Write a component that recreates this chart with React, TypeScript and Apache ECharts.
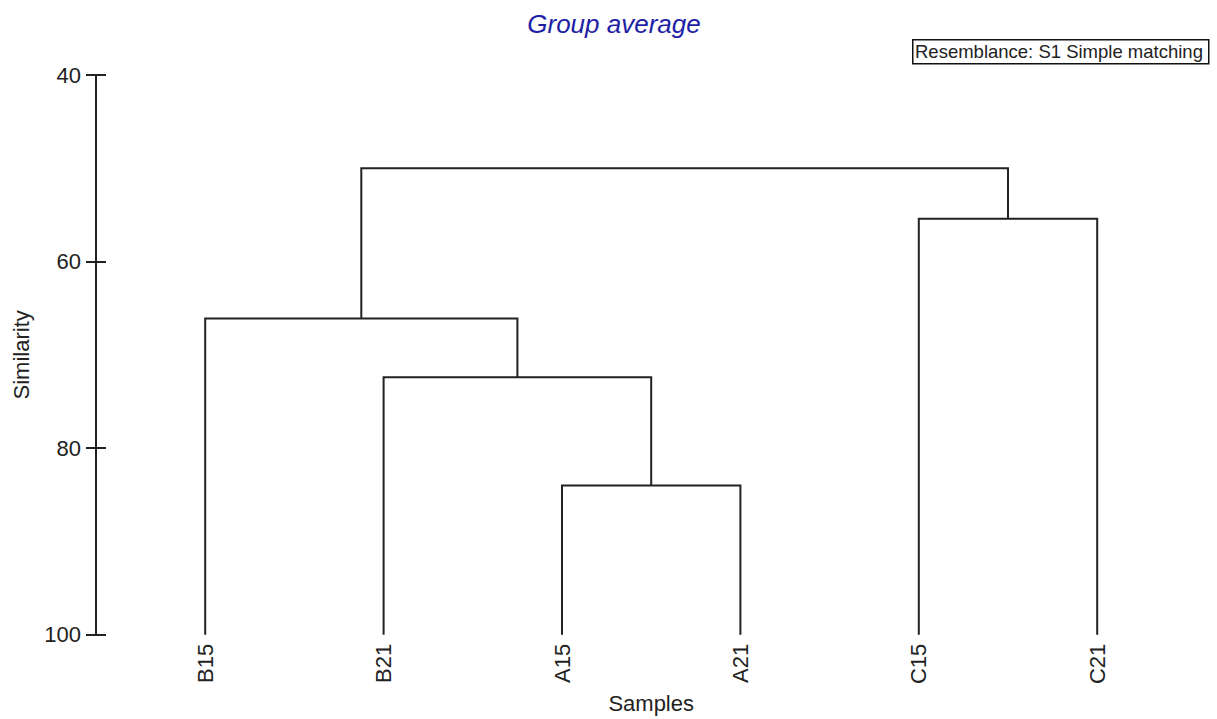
import React, { useEffect, useRef } from "react";
import * as echarts from "echarts";

const leaves = ["B15", "B21", "A15", "A21", "C15", "C21"];
// merges: node ids 0..5 are leaves, 6.. are merges in order
const mergeLeft = [2, 1, 0, 4, 8];
const mergeRight = [3, 6, 7, 5, 9];
const mergeSimilarity = [84.0, 72.4, 66.1, 55.4, 50.0];
const leafSimilarity = 100;
const yMin = 40;
const yMax = 100;
const yInterval = 20;

const titleText = "Group average";
const resemblanceText = "Resemblance: S1 Simple matching";
const xName = "Samples";
const yName = "Similarity";

const FONT = "'Liberation Sans', Arial, sans-serif";

function buildLinks() {
  const nodeX: number[] = leaves.map((_, i) => i);
  const nodeY: number[] = leaves.map(() => leafSimilarity);
  const links: number[][] = [];
  mergeLeft.forEach((l, k) => {
    const r = mergeRight[k];
    const h = mergeSimilarity[k];
    links.push([nodeX[l], nodeY[l], nodeX[r], nodeY[r], h]);
    nodeX.push((nodeX[l] + nodeX[r]) / 2);
    nodeY.push(h);
  });
  return links;
}

export default function App() {
  const ref = useRef<HTMLDivElement>(null);
  useEffect(() => {
    document.body.style.margin = "0";
    const chart = echarts.init(ref.current!, undefined, { renderer: "svg" });
    const links = buildLinks();
    const textColor = "#222";
    chart.setOption({
      animation: false,
      backgroundColor: "#fff",
      textStyle: { fontFamily: FONT },
      title: {
        text: titleText,
        left: 609,
        textAlign: "center",
        top: 6,
        textStyle: {
          fontFamily: FONT,
          fontStyle: "italic",
          fontWeight: "normal",
          fontSize: 26,
          color: "#1f1fa6",
        },
      },
      graphic: [
        {
          type: "rect",
          left: 912,
          top: 39,
          shape: { width: 296, height: 24 },
          style: { fill: "#fff", stroke: "#111", lineWidth: 1.5 },
        },
        {
          type: "text",
          left: 915,
          top: 41.5,
          style: {
            text: resemblanceText,
            fontFamily: FONT,
            fontSize: 18.5,
            fill: textColor,
          },
        },
      ],
      grid: { left: 116, right: 30.6, top: 75, bottom: 81 },
      xAxis: [
        {
          type: "category",
          data: leaves,
          boundaryGap: true,
          axisLine: { show: false },
          axisTick: { show: false },
          axisLabel: {
            rotate: 90,
            margin: 9,
            fontSize: 22,
            color: textColor,
            fontFamily: FONT,
          },
          name: xName,
          nameLocation: "middle",
          nameGap: 56,
          nameTextStyle: { fontSize: 22, color: textColor, fontFamily: FONT },
        },
        {
          type: "value",
          min: -0.5,
          max: leaves.length - 0.5,
          show: false,
        },
      ],
      yAxis: [
        {
          type: "value",
          position: "left",
          inverse: true,
          min: yMin,
          max: yMax,
          interval: yInterval,
          offset: 20,
          splitLine: { show: false },
          axisLine: { show: true, onZero: false, lineStyle: { color: textColor, width: 2 } },
          axisTick: { show: true, length: 10, lineStyle: { color: textColor, width: 2 } },
          axisLabel: { fontSize: 22, color: textColor, margin: 15, fontFamily: FONT },
          name: yName,
          nameLocation: "middle",
          nameGap: 64,
          nameRotate: 90,
          nameTextStyle: { fontSize: 22, color: textColor, fontFamily: FONT },
        },
        {
          type: "value",
          position: "left",
          inverse: true,
          min: yMin,
          max: yMax,
          interval: yInterval,
          offset: 20,
          splitLine: { show: false },
          axisLine: { show: false, onZero: false },
          axisTick: { show: true, inside: true, length: 10, lineStyle: { color: textColor, width: 2 } },
          axisLabel: { show: false },
        },
      ],
      series: [
        {
          type: "custom",
          xAxisIndex: 1,
          yAxisIndex: 0,
          data: links,
          encode: { x: [0, 2], y: [1, 3, 4] },
          renderItem: (params: any, api: any) => {
            const xl = api.value(0);
            const yl = api.value(1);
            const xr = api.value(2);
            const yr = api.value(3);
            const h = api.value(4);
            const p1 = api.coord([xl, yl]);
            const p2 = api.coord([xl, h]);
            const p3 = api.coord([xr, h]);
            const p4 = api.coord([xr, yr]);
            return {
              type: "polyline",
              shape: { points: [p1, p2, p3, p4] },
              style: { stroke: "#222", lineWidth: 2, fill: "none" },
            };
          },
        },
      ],
    });
    return () => chart.dispose();
  }, []);
  return <div ref={ref} style={{ width: 1217, height: 719 }} />;
}
